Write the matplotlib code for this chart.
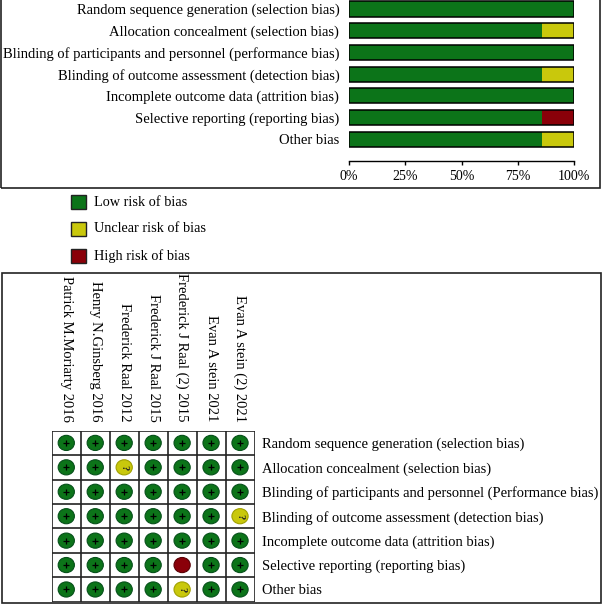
import matplotlib
matplotlib.use("Agg")
import matplotlib.pyplot as plt
from matplotlib.patches import Rectangle, Ellipse

plt.rcParams['font.family'] = ['Liberation Serif', 'DejaVu Serif']

# Data
domains_top = [
    "Random sequence generation (selection bias)",
    "Allocation concealment (selection bias)",
    "Blinding of participants and personnel (performance bias)",
    "Blinding of outcome assessment (detection bias)",
    "Incomplete outcome data (attrition bias)",
    "Selective reporting (reporting bias)",
    "Other bias",
]
domains_bottom = [
    "Random sequence generation (selection bias)",
    "Allocation concealment (selection bias)",
    "Blinding of participants and personnel (Performance bias)",
    "Blinding of outcome assessment (detection bias)",
    "Incomplete outcome data (attrition bias)",
    "Selective reporting (reporting bias)",
    "Other bias",
]
studies = [
    "Patrick M.Moriarty 2016",
    "Henry N.Ginsberg 2016",
    "Frederick Raal 2012",
    "Frederick J Raal 2015",
    "Frederick J Raal (2) 2015",
    "Evan A stein 2021",
    "Evan A stein (2) 2021",
]
# one string per domain, one letter per study: L low, U unclear, H high
judgements = [
    "LLLLLLL",
    "LLULLLL",
    "LLLLLLL",
    "LLLLLLU",
    "LLLLLLL",
    "LLLLHLL",
    "LLLLULL",
]
levels = ["L", "U", "H"]
legend_labels = ["Low risk of bias", "Unclear risk of bias", "High risk of bias"]
fill = {"L": "#0c7419", "U": "#c9c80c", "H": "#8a0009"}
edge = {"L": "#06501a", "U": "#a0a000", "H": "#5a0005"}

W, H = 602, 604
fig = plt.figure(figsize=(W / 100, H / 100), dpi=100)


def rect(x0, y0, x1, y1):
    # pixel box (top-left origin) -> figure fraction
    return [x0 / W, 1 - y1 / H, (x1 - x0) / W, (y1 - y0) / H]


# panel borders
for x0, y0, x1, y1 in [(0.8, -5, 599.5, 187.5), (2, 272.5, 600.8, 602.5)]:
    r = rect(x0, y0, x1, y1)
    fig.patches.append(Rectangle((r[0], r[1]), r[2], r[3], transform=fig.transFigure,
                                 fill=False, edgecolor="#222222", lw=1.2))

# summary bar chart
ax = fig.add_axes(rect(349, 0, 574, 161))
for i, row in enumerate(judgements):
    left = 0
    for lev in levels:
        pct = 100 * row.count(lev) / len(row)
        if pct > 0:
            ax.barh(i, pct, left=left, height=0.7, color=fill[lev], edgecolor="none")
        left += pct
    ax.barh(i, 100, height=0.7, fill=False, edgecolor="black", lw=1.1)
ax.set_xlim(0, 100)
ax.set_ylim(7.0, -0.415)
ax.set_yticks(range(len(domains_top)))
ax.set_yticklabels(domains_top, fontsize=10.5)
ax.tick_params(axis="y", length=0, pad=7)
ax.set_xticks([0, 25, 50, 75, 100])
ax.set_xticklabels(["0%", "25%", "50%", "75%", "100%"], fontsize=10)
ax.tick_params(axis="x", direction="out", length=3, width=1, pad=3.5)
for s in ["left", "top", "right"]:
    ax.spines[s].set_visible(False)
ax.spines["bottom"].set_linewidth(1)

# legend
for k, (lev, lab) in enumerate(zip(levels, legend_labels)):
    yc = 202 + 27 * k
    r = rect(71, yc - 7, 86, yc + 7)
    fig.patches.append(Rectangle((r[0], r[1]), r[2], r[3], transform=fig.transFigure,
                                 facecolor=fill[lev], edgecolor="#222222", lw=1))
    fig.text(94 / W, 1 - yc / H, lab, fontsize=10.3, va="center", ha="left")

# risk of bias grid
gx = fig.add_axes(rect(51.8, 430.7, 254.5, 601.7))
n_r, n_c = len(judgements), len(studies)
gx.set_xlim(0, n_c)
gx.set_ylim(n_r, 0)
gx.vlines(range(n_c + 1), 0, n_r, color="#222222", lw=1.2)
gx.hlines(range(n_r + 1), 0, n_c, color="#222222", lw=1.2)
for i, row in enumerate(judgements):
    for j, lev in enumerate(row):
        gx.add_patch(Ellipse((j + 0.5, i + 0.5), 0.56, 0.62, facecolor=fill[lev],
                             edgecolor=edge[lev], lw=0.8))
        if lev == "L":
            gx.scatter(j + 0.5, i + 0.5, marker="+", s=24, color="black", lw=0.9, zorder=3)
        elif lev == "U":
            gx.text(j + 0.5, i + 0.5, "?", rotation=-90, fontsize=7.5, fontweight="bold",
                    ha="center", va="center", color="#222222")
for s in gx.spines.values():
    s.set_visible(False)
gx.xaxis.tick_top()
gx.set_xticks([j + 0.5 for j in range(n_c)])
gx.set_xticklabels(studies, rotation=-90, fontsize=10.5)
gx.tick_params(axis="x", length=0, pad=6.5)
gx.yaxis.tick_right()
gx.set_yticks([i + 0.5 for i in range(n_r)])
gx.set_yticklabels(domains_bottom, fontsize=10.45)
gx.tick_params(axis="y", length=0, pad=5.5)

fig.savefig("out.png", dpi=100)
